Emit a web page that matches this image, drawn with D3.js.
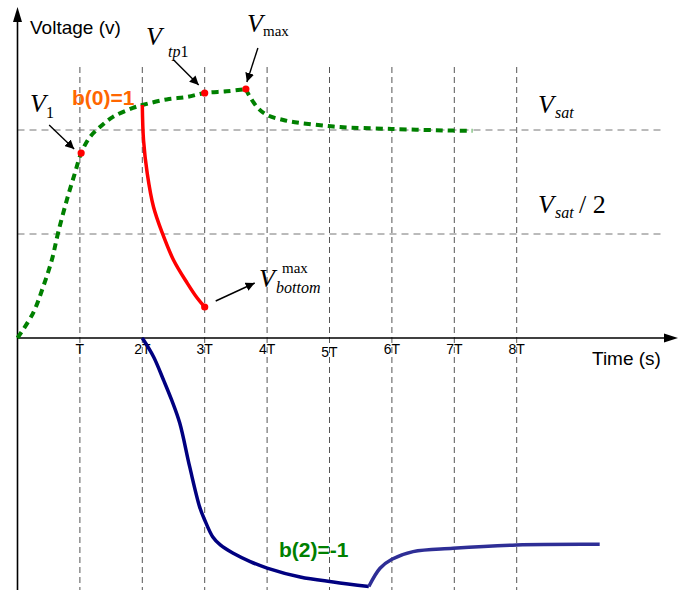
<!DOCTYPE html>
<html>
<head>
<meta charset="utf-8">
<script src="https://cdn.jsdelivr.net/npm/d3@7"></script>
<style>
  body { margin: 0; background: #fff; }
  svg { display: block; }
  .axis-title { font-family: 'Liberation Sans', Arial, sans-serif; font-size: 19px; }
  .tick-label { font-family: 'Liberation Sans', Arial, sans-serif; font-size: 14px; }
  .math { font-family: 'Liberation Serif', 'Times New Roman', serif; }
  .bit { font-family: 'Liberation Sans', Arial, sans-serif; font-size: 21px; font-weight: bold; }
</style>
</head>
<body>
<script>
// svg params
const svgW = 678;
const svgH = 590;

// x in units of T, y in units of Vsat
const tickValues = [1, 2, 3, 4, 5, 6, 7, 8];
const tickLabels = ['T', '2T', '3T', '4T', '5T', '6T', '7T', '8T'];
const levelValues = [1, 0.5];

// green (dashed) response: rise up to Vmax, then settle to Vsat
const greenRise = [
  [0, 0], [0.25, 0.12], [0.41, 0.245], [0.55, 0.375], [0.65, 0.505], [0.79, 0.663],
  [0.92, 0.793], [1.02, 0.889], [1.16, 0.966], [1.32, 1.014], [1.53, 1.063], [1.85, 1.106],
  [2.0, 1.12], [2.39, 1.147], [2.72, 1.159], [3.0, 1.178], [3.35, 1.186], [3.66, 1.197]
];
const greenDecay = [
  [3.66, 1.197], [3.69, 1.178], [3.84, 1.11], [4.0, 1.072], [4.26, 1.048], [4.53, 1.034],
  [4.98, 1.019], [5.17, 1.014], [6.0, 1.005], [6.98, 0.997], [7.29, 0.996]
];
// red: drop after b(0)=1
const redDrop = [
  [2.0, 1.12], [2.02, 0.95], [2.08, 0.79], [2.18, 0.63], [2.32, 0.505], [2.5, 0.375],
  [2.72, 0.264], [2.88, 0.192], [3.0, 0.149]
];
// blue: b(2)=-1 response
const blueFall = [
  [2.0, 0], [2.18, -0.09], [2.34, -0.202], [2.47, -0.298], [2.6, -0.409], [2.76, -0.62],
  [2.92, -0.813], [3.0, -0.875], [3.13, -0.957], [3.25, -0.995], [3.45, -1.034],
  [3.73, -1.075], [4.0, -1.106], [4.53, -1.149], [5.06, -1.173], [5.63, -1.195]
];
const blueRise = [
  [5.63, -1.195], [5.81, -1.107], [6.0, -1.064], [6.34, -1.027], [6.98, -1.011],
  [8.0, -0.995], [9.33, -0.992]
];
// marked points
const markPoints = [
  { name: 'V1', t: 1.02, v: 0.889 },
  { name: 'Vtp1', t: 3.0, v: 1.178 },
  { name: 'Vmax', t: 3.66, v: 1.197 },
  { name: 'Vbottom', t: 3.0, v: 0.149 }
];

const x = d3.scaleLinear().domain([0, 10]).range([17.5, 641.5]);
const y = d3.scaleLinear().domain([0, 1]).range([338, 130]);

const line = d3.line().x((d) => x(d[0])).y((d) => y(d[1])).curve(d3.curveCatmullRom.alpha(0.5));

const svg = d3.select('body').append('svg').attr('width', svgW).attr('height', svgH);

svg.append('defs').append('marker')
  .attr('id', 'arr')
  .attr('viewBox', '0 0 10 10')
  .attr('refX', 10).attr('refY', 5)
  .attr('markerWidth', 9).attr('markerHeight', 9)
  .attr('markerUnits', 'userSpaceOnUse')
  .attr('orient', 'auto')
  .append('path').attr('d', 'M0,0 L10,5 L0,10 Z').attr('fill', '#000');

/*
  grid
*/
svg.selectAll('.vgrid').data(tickValues).enter().append('line')
  .attr('x1', (d) => x(d)).attr('x2', (d) => x(d))
  .attr('y1', 67).attr('y2', svgH)
  .attr('stroke', '#555').attr('stroke-width', 1).attr('stroke-dasharray', '6,4');

svg.selectAll('.hgrid').data(levelValues).enter().append('line')
  .attr('x1', x(0)).attr('x2', 662)
  .attr('y1', (d) => y(d)).attr('y2', (d) => y(d))
  .attr('stroke', '#777').attr('stroke-width', 1).attr('stroke-dasharray', '7,5');

/*
  axes
*/
svg.append('line').attr('x1', x(0)).attr('x2', x(0)).attr('y1', 18).attr('y2', svgH)
  .attr('stroke', '#000').attr('stroke-width', 1.6);
svg.append('path').attr('d', `M${x(0)},7 L${x(0) - 4.5},22 L${x(0) + 4.5},22 Z`).attr('fill', '#000');
svg.append('line').attr('x1', x(0)).attr('x2', 668).attr('y1', y(0)).attr('y2', y(0))
  .attr('stroke', '#000').attr('stroke-width', 1.6);
svg.append('path').attr('d', `M678,${y(0)} L664,${y(0) - 4.5} L664,${y(0) + 4.5} Z`).attr('fill', '#000');

svg.selectAll('.tick-label').data(tickValues).enter().append('text')
  .attr('class', 'tick-label')
  .attr('x', (d) => x(d))
  .attr('y', (d) => y(0) + (d === 5 ? 19 : 16))
  .attr('text-anchor', 'middle')
  .text((d, i) => tickLabels[i]);

svg.append('text').attr('class', 'axis-title').attr('x', 30).attr('y', 34).text('Voltage (v)');
svg.append('text').attr('class', 'axis-title').attr('x', 592).attr('y', 365).text('Time (s)');

/*
  curves
*/
[greenRise, greenDecay].forEach((seg) => {
  svg.append('path').datum(seg).attr('d', line)
    .attr('fill', 'none').attr('stroke', '#008000').attr('stroke-width', 4)
    .attr('stroke-dasharray', '7,5').attr('stroke-linecap', 'butt');
});
svg.append('path').datum(redDrop).attr('d', line)
  .attr('fill', 'none').attr('stroke', '#ff0000').attr('stroke-width', 3.5);
svg.append('path').datum(blueFall).attr('d', line)
  .attr('fill', 'none').attr('stroke', '#000080').attr('stroke-width', 3.5);
svg.append('path').datum(blueRise).attr('d', line)
  .attr('fill', 'none').attr('stroke', '#2e2e96').attr('stroke-width', 3.5);

svg.selectAll('.dot').data(markPoints).enter().append('circle')
  .attr('cx', (d) => x(d.t)).attr('cy', (d) => y(d.v)).attr('r', 3.6).attr('fill', '#ff0000');

/*
  annotations: arrows offset from the marked points
*/
const arrowOffsets = {
  V1: [[-32, -28], [-7, -4]],
  Vtp1: [[-31, -33], [-6, -8]],
  Vmax: [[12, -41], [1, -7]],
  Vbottom: [[11, -6], [50, -24]]
};
markPoints.forEach((p) => {
  const o = arrowOffsets[p.name];
  svg.append('line')
    .attr('x1', x(p.t) + o[0][0]).attr('y1', y(p.v) + o[0][1])
    .attr('x2', x(p.t) + o[1][0]).attr('y2', y(p.v) + o[1][1])
    .attr('stroke', '#000').attr('stroke-width', 1.4).attr('marker-end', 'url(#arr)');
});

const mathLabel = (xx, yy, parts) => {
  const t = svg.append('text').attr('class', 'math').attr('x', xx).attr('y', yy);
  parts.forEach((p) => {
    t.append('tspan')
      .attr('x', p.x !== undefined ? p.x : null)
      .attr('y', p.y !== undefined ? p.y : null)
      .attr('font-size', p.size)
      .attr('font-style', p.italic ? 'italic' : 'normal')
      .text(p.text);
  });
};

mathLabel(30, 112, [
  { text: 'V', size: 26, italic: true },
  { text: '1', size: 16, x: 46, y: 118 }
]);
mathLabel(146, 45, [
  { text: 'V', size: 26, italic: true },
  { text: 'tp', size: 16, italic: true, x: 168, y: 57 },
  { text: '1', size: 16 }
]);
mathLabel(247, 32, [
  { text: 'V', size: 26, italic: true },
  { text: 'max', size: 15, x: 263, y: 36 }
]);
mathLabel(259, 287, [
  { text: 'V', size: 26, italic: true },
  { text: 'max', size: 15, x: 282, y: 273 },
  { text: 'bottom', size: 16, italic: true, x: 276, y: 293 }
]);
mathLabel(538, 113, [
  { text: 'V', size: 26, italic: true },
  { text: 'sat', size: 16, italic: true, x: 555, y: 118 }
]);
mathLabel(538, 213, [
  { text: 'V', size: 26, italic: true },
  { text: 'sat', size: 16, italic: true, x: 555, y: 218 },
  { text: '/ 2', size: 26, x: 579, y: 213 }
]);

svg.append('text').attr('class', 'bit').attr('x', 72).attr('y', 105)
  .attr('fill', '#ff6600').text('b(0)=1');
svg.append('text').attr('class', 'bit').attr('x', 279).attr('y', 557)
  .attr('fill', '#008000').text('b(2)=-1');
</script>
</body>
</html>
